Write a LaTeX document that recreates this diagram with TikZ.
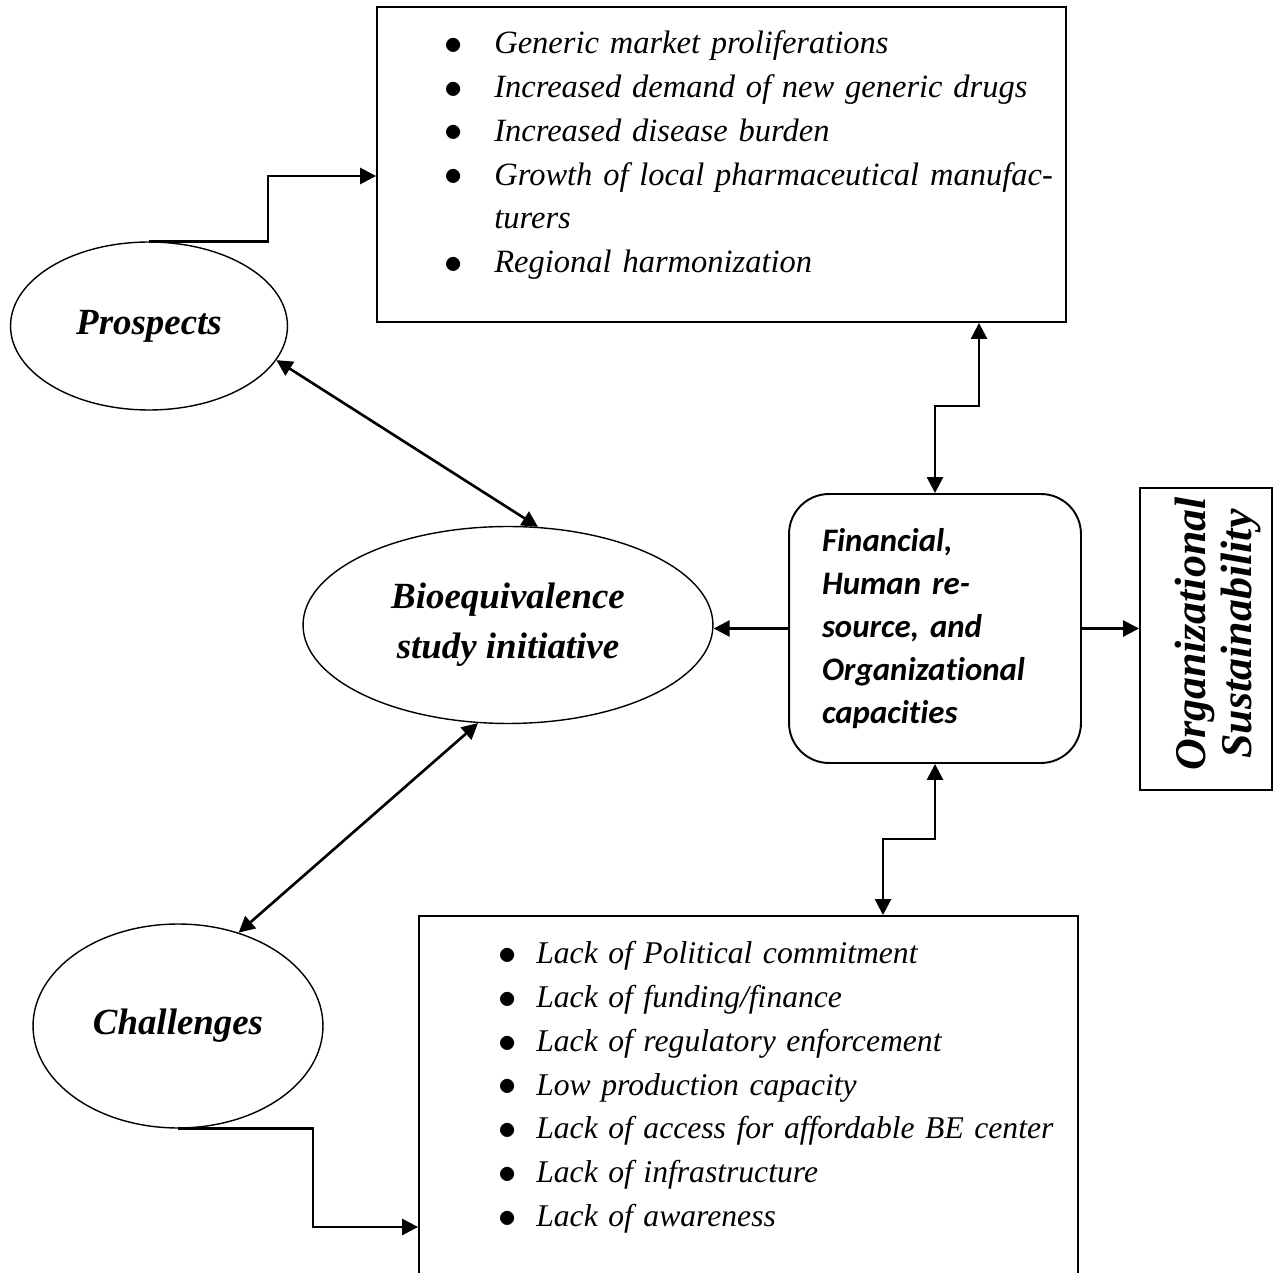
\documentclass[tikz,border=0pt]{standalone}
\usepackage{fontspec}
\setmainfont{Liberation Serif}
\newfontfamily\capfont[Ligatures=NoCommon]{Carlito}
\usepackage{enumitem}
\usetikzlibrary{shapes.geometric,arrows.meta,calc}

\newcommand{\bigdot}{\raisebox{-0.5pt}{\fontsize{21}{21}\selectfont$\bullet$}}

\tikzset{
  oval/.style={draw, ellipse, line width=0.8pt, align=center,
    font=\fontsize{21}{28.5}\selectfont\bfseries\itshape},
  box/.style={draw, rectangle, line width=1.1pt},
  link/.style={line width=1.5pt, -{Triangle[length=0.32cm,width=0.32cm]}},
  twoway/.style={line width=1.5pt,
    {Triangle[length=0.32cm,width=0.32cm]}-{Triangle[length=0.32cm,width=0.32cm]}}
}

\begin{document}
\begin{tikzpicture}[x=0.02cm, y=-0.02cm]
    \useasboundingbox (0,0) rectangle (1275,1273);

    % the three ovals
    \node[oval, minimum width=5.54cm, minimum height=3.36cm] (prospects) at (149,326) {Prospects};
    \node[oval, minimum width=8.2cm, minimum height=3.94cm] (bioeq) at (508,625) {Bioequivalence\\study initiative};
    \node[oval, minimum width=5.8cm, minimum height=4.08cm] (challenges) at (178,1026) {Challenges};

    % boxes
    \node[box, minimum width=13.78cm, minimum height=6.3cm] (prosbox) at (721.5,164.5) {};
    \node[box, minimum width=13.18cm, minimum height=7.6cm] (lackbox) at (748.5,1106) {};
    \node[box, rounded corners=0.8cm, minimum width=5.84cm, minimum height=5.38cm,
          text width=4.52cm, align=left,
          font=\capfont\fontsize{18.7}{24.5}\selectfont\bfseries\itshape] (capac) at (935,628.5)
          {Financial,\\Human re-\\source, and\\Organizational\\capacities};
    \node[box, minimum width=2.64cm, minimum height=6.04cm] (orgsus) at (1206,639) {};
    \node[rotate=90, align=center, font=\fontsize{25}{26.5}\selectfont\bfseries\itshape]
          (orgtext) at (1218,634) {Organizational\\Sustainability};

    % lists
    \node[anchor=north west, inner sep=0pt, text width=12cm,
          font=\fontsize{18.5}{25}\selectfont\itshape] (proslist) at (440,9) {%
      \begin{itemize}[label=\bigdot, leftmargin=1.08cm, labelsep=0.64cm,
                      topsep=0pt, partopsep=0pt, itemsep=0pt, parsep=0pt]
        \item Generic market proliferations
        \item Increased demand of new generic drugs
        \item Increased disease burden
        \item \makebox[\linewidth][s]{Growth of local pharmaceutical manufac-}\\turers
        \item Regional harmonization
      \end{itemize}};
    \node[anchor=north west, inner sep=0pt, text width=11.4cm,
          font=\fontsize{18}{25}\selectfont\itshape] (lacklist) at (490,919) {%
      \begin{itemize}[label=\bigdot, leftmargin=0.92cm, labelsep=0.4cm,
                      topsep=0pt, partopsep=0pt, itemsep=0pt, parsep=0pt]
        \item Lack of Political commitment
        \item Lack of funding/finance
        \item Lack of regulatory enforcement
        \item Low production capacity
        \item Lack of access for affordable BE center
        \item Lack of infrastructure
        \item Lack of awareness
      \end{itemize}};

    % connectors
    \draw[link] (prospects.north) -- ++(119,0) |- ($(prosbox.west)+(0,11.5)$);
    \draw[twoway] (prospects.-15.7) -- (bioeq.73);
    \draw[twoway] (bioeq.253) -- (challenges.57.7);
    \draw[link] (challenges.south) -- ++(135,0) |- ($(lackbox.west)+(0,121)$);
    \draw[twoway] (capac.north) -- ++(0,-87) -| ($(prosbox.south)+(257.5,0)$);
    \draw[twoway] (capac.south) -- ++(0,75) -| ($(lackbox.north)+(134.5,0)$);
    \draw[link] (capac.west) -- (capac.west -| bioeq.east);
    \draw[link] (capac.east) -- (capac.east -| orgsus.west);
\end{tikzpicture}
\end{document}
